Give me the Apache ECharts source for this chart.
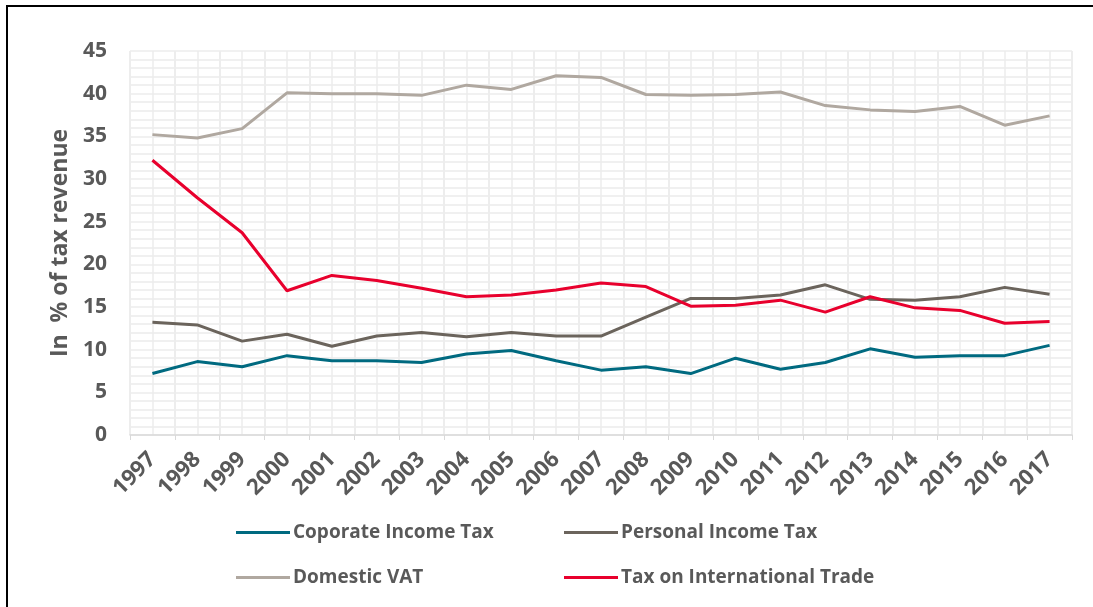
<!DOCTYPE html>
<html>
<head>
<meta charset="utf-8">
<script src="https://cdn.jsdelivr.net/npm/echarts@6/dist/echarts.min.js"></script>
<style>
  html, body { margin: 0; padding: 0; background: #fff; }
  #chart { width: 1093px; height: 607px; }
  .frame {
    position: absolute; left: 6px; top: 5px; width: 1100px; height: 620px;
    border-left: 2px solid #000; border-top: 2px solid #000;
    pointer-events: none;
  }
</style>
</head>
<body>
<div id="chart"></div>
<div class="frame"></div>
<script>
const years = ['1997', '1998', '1999', '2000', '2001', '2002', '2003', '2004', '2005', '2006', '2007',
  '2008', '2009', '2010', '2011', '2012', '2013', '2014', '2015', '2016', '2017']

const corporate = [7.2, 8.6, 8.0, 9.3, 8.7, 8.7, 8.5, 9.5, 9.9, 8.7, 7.6,
  8.0, 7.2, 9.0, 7.7, 8.5, 10.1, 9.1, 9.3, 9.3, 10.5]
const personal = [13.2, 12.9, 11.0, 11.8, 10.4, 11.6, 12.0, 11.5, 12.0, 11.6, 11.6,
  13.8, 16.0, 16.0, 16.4, 17.6, 15.9, 15.8, 16.2, 17.3, 16.5]
const vat = [35.2, 34.8, 35.9, 40.1, 40.0, 40.0, 39.8, 41.0, 40.5, 42.1, 41.9,
  39.9, 39.8, 39.9, 40.2, 38.6, 38.1, 37.9, 38.5, 36.3, 37.4]
const trade = [32.2, 27.8, 23.7, 16.9, 18.7, 18.1, 17.2, 16.2, 16.4, 17.0, 17.8,
  17.4, 15.1, 15.2, 15.8, 14.4, 16.2, 14.9, 14.6, 13.1, 13.3]

const names = ['Coporate Income Tax', 'Personal Income Tax', 'Domestic VAT', 'Tax on International Trade']
const colors = ['#006A80', '#6B645C', '#B0A8A0', '#E8002D']

const font = '"Open Sans", sans-serif'
const labelColor = '#595959'

const chart = echarts.init(document.getElementById('chart'))

// one legend per item so each can sit in its own column
const legendPos = [[231, 518], [559, 518], [231, 563], [559, 563]]
const legends = names.map((n, i) => ({
  data: [n],
  left: legendPos[i][0],
  top: legendPos[i][1],
  itemWidth: 54,
  itemHeight: 24,
  itemGap: 0,
  icon: 'path://M0,10.5 L54,10.5 L54,13.5 L0,13.5 Z',
  textStyle: { fontFamily: font, fontSize: 19, fontWeight: 'bold', color: labelColor, padding: [0, 0, 0, -2] }
}))

chart.setOption({
  animation: false,
  color: colors,
  grid: { left: 130, right: 21, top: 51, bottom: 172 },
  legend: legends,
  xAxis: [
    {
      type: 'category',
      data: years,
      boundaryGap: true,
      axisLine: { lineStyle: { color: '#D9D9D9', width: 1.5 } },
      axisTick: { show: true, length: 5, lineStyle: { color: '#D9D9D9' } },
      axisLabel: {
        rotate: 45, interval: 0, margin: 21,
        fontFamily: font, fontWeight: 'bold', fontSize: 22, color: labelColor
      },
      splitLine: { show: true, interval: 0, lineStyle: { color: '#ECECEC', width: 1.5 } }
    },
    {
      // half-category vertical grid
      type: 'value', min: 0, max: 42, interval: 1,
      position: 'bottom',
      axisLine: { show: false }, axisTick: { show: false }, axisLabel: { show: false },
      splitLine: { show: true, lineStyle: { color: '#ECECEC', width: 1.5 } }
    }
  ],
  yAxis: {
    type: 'value',
    min: 0, max: 45, interval: 5,
    name: 'In  % of tax revenue',
    nameLocation: 'middle',
    nameGap: 58,
    nameTextStyle: { fontFamily: font, fontWeight: 'bold', fontSize: 23, color: labelColor },
    axisLine: { show: false },
    axisTick: { show: false },
    axisLabel: { margin: 23, fontFamily: font, fontWeight: 'bold', fontSize: 21, color: labelColor },
    splitLine: { show: true, lineStyle: { color: '#ECECEC', width: 1.5 } },
    minorTick: { show: false, splitNumber: 5 },
    minorSplitLine: { show: true, lineStyle: { color: '#ECECEC', width: 1.5 } }
  },
  series: [
    { name: names[0], type: 'line', data: corporate },
    { name: names[1], type: 'line', data: personal },
    { name: names[2], type: 'line', data: vat },
    { name: names[3], type: 'line', data: trade }
  ].map(s => Object.assign(s, {
    xAxisIndex: 0,
    showSymbol: false,
    symbol: 'none',
    lineStyle: { width: 3 }
  }))
})
</script>
</body>
</html>
